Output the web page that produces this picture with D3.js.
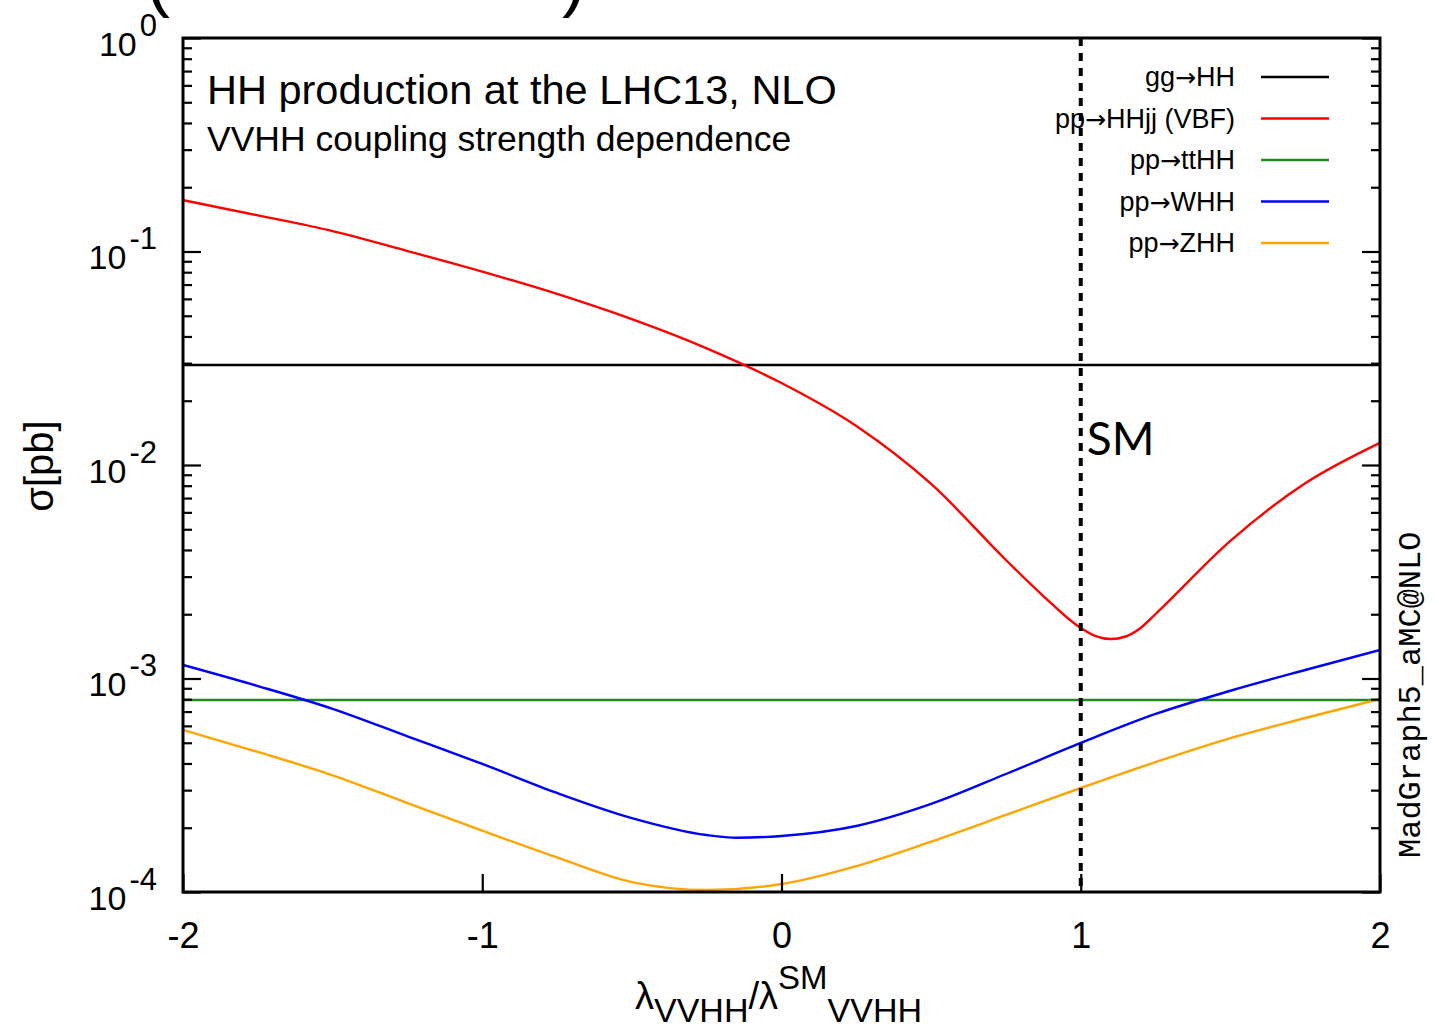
<!DOCTYPE html>
<html>
<head>
<meta charset="utf-8">
<title>HH production at the LHC13, NLO</title>
<script src="https://cdn.jsdelivr.net/npm/d3@7"></script>
<style>
  body { margin: 0; background: #fff; }
  text { font-family: "Liberation Sans", Arial, Helvetica, sans-serif; fill: #000; }
</style>
</head>
<body>
<script>

// Values (lambda_VVHH / lambda_SM on x, sigma in pb on y)
var ggLambda = [-2, 2];
var ggSigma = [0.0294, 0.0294];

var vbfLambda = [-2, -1.75, -1.5, -1.25, -1, -0.75, -0.5, -0.25, 0, 0.25, 0.5, 0.75, 0.875, 1, 1.05, 1.1, 1.15, 1.2, 1.25, 1.5, 1.75, 2];
var vbfSigma = [0.174, 0.1477, 0.1245, 0.1005, 0.0805, 0.0633, 0.0482, 0.0352, 0.0242, 0.01523, 0.00815, 0.00359, 0.002434, 0.001724, 0.00158, 0.00153, 0.001573, 0.001724, 0.002005, 0.00441, 0.00821, 0.0127];

var ttLambda = [-2, 2];
var ttSigma = [7.93e-4, 7.93e-4];

var whhLambda = [-2, -1.75, -1.5, -1.25, -1, -0.75, -0.5, -0.25, -0.15, 0, 0.25, 0.5, 0.75, 1, 1.25, 1.5, 1.75, 2];
var whhSigma = [1.157e-3, 9.22e-4, 7.21e-4, 5.36e-4, 3.98e-4, 2.91e-4, 2.22e-4, 1.849e-4, 1.796e-4, 1.829e-4, 2.037e-4, 2.584e-4, 3.57e-4, 4.99e-4, 6.82e-4, 8.76e-4, 1.096e-3, 1.36e-3];

var zhhLambda = [-2, -1.75, -1.5, -1.25, -1, -0.75, -0.5, -0.25, 0, 0.25, 0.5, 0.75, 1, 1.25, 1.5, 1.75, 2];
var zhhSigma = [5.74e-4, 4.53e-4, 3.52e-4, 2.61e-4, 1.937e-4, 1.451e-4, 1.113e-4, 1.022e-4, 1.09e-4, 1.323e-4, 1.722e-4, 2.295e-4, 3.07e-4, 4.06e-4, 5.26e-4, 6.53e-4, 8.02e-4];

var seriesNames = ["gg\u2192HH", "pp\u2192HHjj (VBF)", "pp\u2192ttHH", "pp\u2192WHH", "pp\u2192ZHH"];
var smLambda = 1;

var xTicks = [-2, -1, 0, 1, 2];
var yDecades = [1e-4, 1e-3, 1e-2, 1e-1, 1];

drawChart();

function drawChart(){

  // Width and height
  var w = 1436;
  var h = 1025;
  var margin = {top: 38, left: 183, right: 56, bottom: 133};
  var graphWidth = w - margin.left - margin.right;
  var graphHeight = h - margin.top - margin.bottom;

  var svg = d3.select("body")
              .append("svg")
              .attr("width", w)
              .attr("height", h);

  var graph = svg.append("g")
                 .attr("transform", `translate(${margin.left}, ${margin.top})`);

  // Scales
  var xScale = d3.scaleLinear()
                 .domain([-2, 2])
                 .range([0, graphWidth]);

  var yScale = d3.scaleLog()
                 .domain([1e-4, 1])
                 .range([graphHeight, 0]);

  // minor tick positions 2..9 in every decade
  var minorTicks = [];
  yDecades.slice(0, -1).forEach(d => {
    for (var k = 2; k < 10; k++) minorTicks.push(d * k);
  });

  // Series and their colours
  var series = [
    {name: seriesNames[0], lambda: ggLambda, sigma: ggSigma, color: "#000000"},
    {name: seriesNames[1], lambda: vbfLambda, sigma: vbfSigma, color: "#ff0000"},
    {name: seriesNames[2], lambda: ttLambda, sigma: ttSigma, color: "#228b22"},
    {name: seriesNames[3], lambda: whhLambda, sigma: whhSigma, color: "#0000ff"},
    {name: seriesNames[4], lambda: zhhLambda, sigma: zhhSigma, color: "#ffa500"}
  ];

  var line = d3.line()
               .x(d => xScale(d[0]))
               .y(d => yScale(d[1]))
               .curve(d3.curveMonotoneX);

  svg.append("clipPath").attr("id", "plotclip")
     .append("rect")
     .attr("width", graphWidth)
     .attr("height", graphHeight);

  graph.append("g")
       .attr("clip-path", "url(#plotclip)")
       .selectAll("path")
       .data(series)
       .enter()
       .append("path")
       .attr("d", s => line(s.lambda.map((l, i) => [l, s.sigma[i]])))
       .attr("fill", "none")
       .attr("stroke", s => s.color)
       .attr("stroke-width", 2.4);

  // SM dashed line
  graph.append("line")
       .attr("x1", xScale(smLambda))
       .attr("x2", xScale(smLambda))
       .attr("y1", 0)
       .attr("y2", graphHeight)
       .attr("stroke", "#000")
       .attr("stroke-width", 4)
       .attr("stroke-dasharray", "8,7");

  graph.append("text")
       .attr("x", xScale(smLambda) + 6)
       .attr("y", 417)
       .style("font-family", "Lato, 'Open Sans', sans-serif")
       .style("font-size", "46px")
       .text("SM");

  // Axes, ticks pointing inside
  function styleAxis(g){
    g.select(".domain").remove();
    g.selectAll(".tick line").attr("stroke", "#000").attr("stroke-width", 2.2);
  }

  var yAxisLeft = graph.append("g")
       .call(d3.axisLeft(yScale).tickValues(yDecades).tickSize(-18).tickPadding(26).tickFormat(""));
  styleAxis(yAxisLeft);

  yAxisLeft.selectAll(".tick text").each(function(d){
    var t = d3.select(this)
              .attr("y", 17)
              .attr("dy", null)
              .attr("text-anchor", "end")
              .style("font-size", "34px");
    t.append("tspan").text("10");
    t.append("tspan")
     .attr("dy", -20)
     .attr("dx", 3)
     .style("font-size", "31px")
     .text(Math.round(Math.log10(d)));
  });

  styleAxis(graph.append("g")
       .call(d3.axisLeft(yScale).tickValues(minorTicks).tickSize(-9).tickFormat("")));

  styleAxis(graph.append("g")
       .attr("transform", `translate(${graphWidth}, 0)`)
       .call(d3.axisRight(yScale).tickValues(yDecades).tickSize(-18).tickFormat("")));

  styleAxis(graph.append("g")
       .attr("transform", `translate(${graphWidth}, 0)`)
       .call(d3.axisRight(yScale).tickValues(minorTicks).tickSize(-9).tickFormat("")));

  var xAxis = graph.append("g")
       .attr("transform", `translate(0, ${graphHeight})`)
       .call(d3.axisBottom(xScale).tickValues(xTicks).tickSize(-18).tickFormat(d => String(d)));
  styleAxis(xAxis);
  xAxis.selectAll(".tick text")
       .attr("y", 56)
       .attr("dy", null)
       .style("font-size", "36px");

  // Frame
  graph.append("rect")
       .attr("width", graphWidth)
       .attr("height", graphHeight)
       .attr("fill", "none")
       .attr("stroke", "#000")
       .attr("stroke-width", 3);

  // Titles inside the frame
  graph.append("text")
       .attr("x", 24)
       .attr("y", 66)
       .style("font-size", "41.5px")
       .text("HH production at the LHC13, NLO");

  graph.append("text")
       .attr("x", 24)
       .attr("y", 113)
       .style("font-size", "35.5px")
       .text("VVHH coupling strength dependence");

  // Legend
  var legend = graph.selectAll(".legend")
       .data(series)
       .enter()
       .append("g")
       .attr("class", "legend")
       .attr("transform", (s, i) => `translate(0, ${48 + i * 41.5})`);

  var legendText = legend.append("text")
        .attr("x", 1235 - margin.left)
        .attr("text-anchor", "end")
        .style("font-size", "27px");

  // arrow in a font where it is full width
  legendText.each(function(s){
    var parts = s.name.split("\u2192");
    var t = d3.select(this);
    t.append("tspan").text(parts[0]);
    t.append("tspan").style("font-family", "'DejaVu Sans', sans-serif").style("font-size", "25px").text("\u2192");
    t.append("tspan").text(parts[1]);
  });

  legend.append("line")
        .attr("x1", 1261 - margin.left)
        .attr("x2", 1329 - margin.left)
        .attr("y1", -9)
        .attr("y2", -9)
        .attr("stroke", s => s.color)
        .attr("stroke-width", 2.4);

  // Axis titles
  svg.append("text")
     .attr("transform", "translate(53, 466) rotate(-90)")
     .attr("text-anchor", "middle")
     .style("font-size", "40px")
     .text("\u03c3[pb]");

  var xl = svg.append("text")
     .attr("x", 635)
     .attr("y", 1009)
     .style("font-size", "38px");
  xl.append("tspan").text("\u03bb");
  xl.append("tspan").attr("dy", 13).style("font-size", "34px").text("VVHH");
  xl.append("tspan").attr("dy", -13).text("/\u03bb");
  xl.append("tspan").attr("dy", -20).style("font-size", "33px").text("SM");
  xl.append("tspan").attr("dy", 33).style("font-size", "34px").text("VVHH");

  // Generator label on the right
  svg.append("text")
     .attr("transform", "translate(1420, 858) rotate(-90)")
     .style("font-family", "'Liberation Mono', 'DejaVu Sans Mono', monospace")
     .style("font-size", "32px")
     .text("MadGraph5_aMC@NLO");

  // Bits of the cut-off title above the chart
  svg.append("text").attr("x", 146).attr("y", 3).style("font-size", "72px").text("(");
  svg.append("text").attr("x", 562).attr("y", 3).style("font-size", "72px").text(")");
}

</script>
</body>
</html>
